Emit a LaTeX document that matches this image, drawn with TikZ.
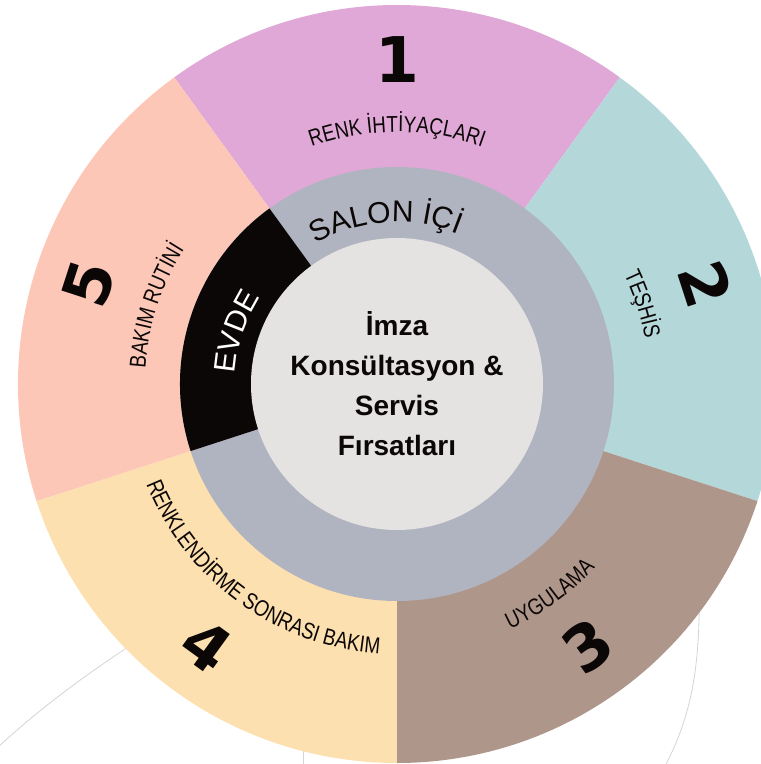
\documentclass[tikz,border=0pt]{standalone}
\usepackage{fontspec}
\setmainfont{Liberation Sans}
\newfontfamily\narrowfont[FakeStretch=0.82]{Liberation Sans}
\newfontfamily\digitfont{DejaVu Sans}
\usetikzlibrary{decorations.text}

\definecolor{segpink}{RGB}{224,168,214}
\definecolor{segteal}{RGB}{180,216,217}
\definecolor{segbrown}{RGB}{175,150,138}
\definecolor{segyellow}{RGB}{253,224,175}
\definecolor{segsalmon}{RGB}{253,199,183}
\definecolor{ringgray}{RGB}{176,180,192}
\definecolor{hubgray}{RGB}{228,227,226}
\definecolor{inkblack}{RGB}{12,7,7}
\definecolor{faintline}{RGB}{212,212,212}

\newcommand\seglbl{\narrowfont\fontsize{23}{23}\selectfont}
\newcommand\ringlbl{\fontsize{30}{30}\selectfont}

\tikzset{
  numlbl/.style={font=\digitfont\fontsize{63}{63}\selectfont\bfseries, text=inkblack, inner sep=0pt},
  ringtext/.style={decorate, decoration={text along path, text align=center, text color=inkblack}},
  faint/.style={draw=faintline, line width=0.8pt}
}

\begin{document}
\begin{tikzpicture}[x=1pt,y=1pt]
  \useasboundingbox (-397,-380) rectangle (364,384);
  \clip (-397,-380) rectangle (364,384);

  % faint lines behind the wheel
  \draw[faint] (-400,-364) .. controls (-350,-318) and (-300,-282) .. (-230,-238);
  \draw[faint] (302,-190) .. controls (304,-280) and (296,-330) .. (266,-386);
  \draw[faint] (-94,-340) -- (-94,-384);

  % outer segments
  \foreach \a/\c in {54/segpink,-18/segteal,-90/segbrown,-162/segyellow,-234/segsalmon}
    \fill[\c] (0,0) -- (\a:379) arc[start angle=\a, end angle=\a+72, radius=379] -- cycle;

  % inner ring
  \fill[ringgray] (0,0) circle (217);
  \fill[inkblack] (0,0) -- (126:217) arc[start angle=126, end angle=198, radius=217] -- cycle;
  \node[circle, fill=hubgray, minimum size=292pt, inner sep=0pt] (hub) at (0,0) {};

  % centre text
  \node[align=center, text=inkblack, font=\fontsize{28}{40}\selectfont\bfseries] (title) at (0,0)
    {İmza\\Konsültasyon \&\\Servis\\Fırsatları};

  % numbers
  \node[numlbl] (n1) at (90:324) {1};
  \node[numlbl, rotate=-72] (n2) at (18:324) {2};
  \node[numlbl, rotate=36] (n3) at (-54:324) {3};
  \node[numlbl, rotate=-36] (n4) at (-126:324) {4};
  \node[numlbl, rotate=72] (n5) at (162:324) {5};

  % segment labels
  \path[ringtext, decoration={text={|\seglbl|RENK İHTİYAÇLARI}}]
    (126:252) arc[start angle=126, end angle=54, radius=252];
  \path[ringtext, decoration={text={|\seglbl|TEŞHİS}}]
    (54:252) arc[start angle=54, end angle=-18, radius=252];
  \path[ringtext, decoration={text={|\seglbl|UYGULAMA}}]
    (-90:270) arc[start angle=-90, end angle=-18, radius=270];
  \path[ringtext, decoration={text={|\seglbl|RENKLENDİRME SONRASI BAKIM}}]
    (198:270) arc[start angle=198, end angle=270, radius=270];
  \path[ringtext, decoration={text={|\seglbl|BAKIM RUTİNİ}}]
    (198:252) arc[start angle=198, end angle=126, radius=252];

  % ring labels
  \path[ringtext, decoration={text={|\ringlbl|SALON İÇİ}}]
    (124:162) arc[start angle=124, end angle=64, radius=162];
  \path[ringtext, decoration={text color=white, text={|\ringlbl|EVDE}}]
    (198:162) arc[start angle=198, end angle=126, radius=162];
\end{tikzpicture}
\end{document}
